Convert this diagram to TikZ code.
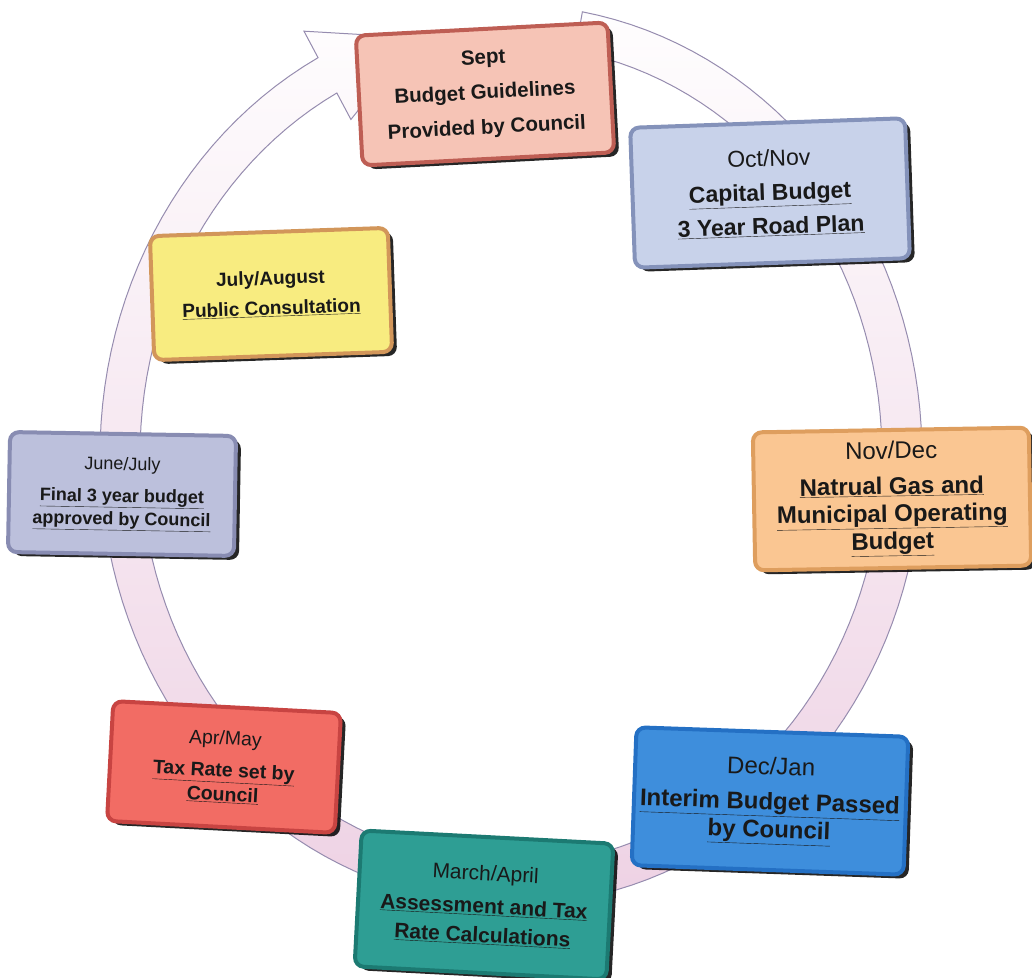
\documentclass[tikz,border=0pt]{standalone}
\usepackage{fontspec}
\setmainfont{Liberation Sans}
\usetikzlibrary{shadows}

\definecolor{ringpink}{RGB}{238,210,228}
\definecolor{ringedge}{RGB}{150,140,175}
\definecolor{septfill}{RGB}{246,196,182}
\definecolor{septrim}{RGB}{190,94,84}
\definecolor{octfill}{RGB}{200,210,234}
\definecolor{octrim}{RGB}{132,146,186}
\definecolor{novfill}{RGB}{250,198,146}
\definecolor{novrim}{RGB}{222,158,94}
\definecolor{decfill}{RGB}{62,142,220}
\definecolor{decrim}{RGB}{36,112,196}
\definecolor{marfill}{RGB}{46,158,148}
\definecolor{marrim}{RGB}{28,122,114}
\definecolor{aprfill}{RGB}{242,108,100}
\definecolor{aprrim}{RGB}{200,68,66}
\definecolor{junfill}{RGB}{188,192,220}
\definecolor{junrim}{RGB}{136,140,178}
\definecolor{julfill}{RGB}{248,236,128}
\definecolor{julrim}{RGB}{210,150,90}

\begin{document}
\begin{tikzpicture}[x=1pt,y=1pt]
\tikzset{box/.style 2 args = {draw=#2, fill=#1, line width=4pt, rounded corners=9pt,
  align=center, text=black!90,
  drop shadow={shadow xshift=5pt, shadow yshift=-4pt, opacity=0.85, fill=black}}}
\tikzset{ring/.style = {draw=ringedge, line width=1pt, top color=white!96!ringpink, bottom color=ringpink}}
\useasboundingbox (0,0) rectangle (1032,977);
% clockwise arrow running round behind the boxes
\path[ring] plot[domain=80:-242, samples=140] ({511+411*cos(\x)},{522+450*sin(\x)})
  -- ({511+441*cos(118)},{522+480*sin(118)})
  -- ({511+391*cos(104)},{522+430*sin(104)})
  -- ({511+341*cos(118)},{522+380*sin(118)})
  -- plot[domain=-242:80, samples=140] ({511+371*cos(\x)},{522+410*sin(\x)}) -- cycle;
\node[box={septfill}{septrim}, minimum width=252pt, minimum height=130pt, rotate=3,
  font=\fontsize{20.5}{35}\selectfont\bfseries] (sept) at (485,883)
  {Sept\\Budget Guidelines\\Provided by Council};
\node[box={octfill}{octrim}, minimum width=275pt, minimum height=140pt, rotate=2,
  font=\fontsize{23}{34}\selectfont] (octnov) at (770,784)
  {Oct/Nov\\\textbf{\underline{Capital Budget}}\\\textbf{\underline{3 Year Road Plan}}};
\node[box={novfill}{novrim}, minimum width=276pt, minimum height=138pt, rotate=1,
  font=\fontsize{24}{27.5}\selectfont] (novdec) at (892,478)
  {Nov/Dec\\[8pt]\textbf{\underline{Natrual Gas and}}\\\textbf{\underline{Municipal Operating}}\\\textbf{\underline{Budget}}};
\node[box={decfill}{decrim}, minimum width=272pt, minimum height=138pt, rotate=-2,
  font=\fontsize{24}{28}\selectfont] (decjan) at (770,176)
  {Dec/Jan\\[7pt]\textbf{\underline{Interim Budget Passed}}\\\textbf{\underline{by Council}}};
\node[box={marfill}{marrim}, minimum width=252pt, minimum height=136pt, rotate=-3,
  font=\fontsize{21}{29}\selectfont] (march) at (484,72)
  {March/April\\[4pt]\textbf{\underline{Assessment and Tax}}\\\textbf{\underline{Rate Calculations}}};
\node[box={aprfill}{aprrim}, minimum width=228pt, minimum height=120pt, rotate=-3,
  font=\fontsize{19.5}{24}\selectfont] (aprmay) at (224,210)
  {Apr/May\\[8pt]\textbf{\underline{Tax Rate set by}}\\\textbf{\underline{Council}}};
\node[box={junfill}{junrim}, minimum width=226pt, minimum height=120pt, rotate=-1,
  font=\fontsize{18}{23}\selectfont] (junjul) at (122,483)
  {June/July\\[9pt]\textbf{\underline{Final 3 year budget}}\\\textbf{\underline{approved by Council}}};
\node[box={julfill}{julrim}, minimum width=238pt, minimum height=124pt, rotate=2,
  font=\fontsize{19}{30}\selectfont\bfseries] (julaug) at (271,683)
  {July/August\\\underline{Public Consultation}};
\end{tikzpicture}
\end{document}
